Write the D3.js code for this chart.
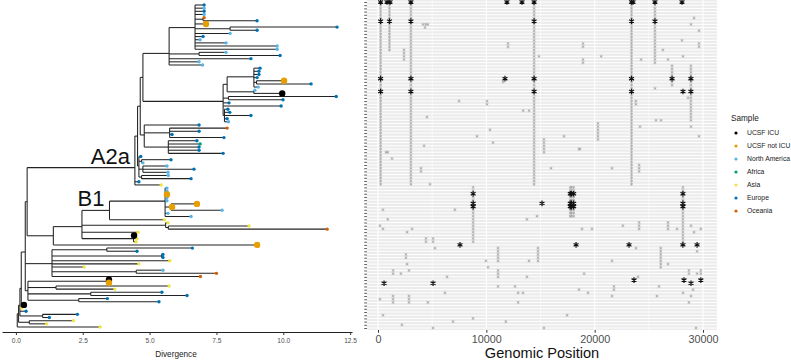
<!DOCTYPE html>
<html>
<head>
<meta charset="utf-8">
<script src="https://cdn.jsdelivr.net/npm/d3@7"></script>
<style>
  body { margin: 0; background: #fff; }
  svg { display: block; font-family: "Liberation Sans", Arial, sans-serif; }
</style>
</head>
<body>
<div id="chart"></div>
<script>
// legend groups
const sampleGroups = ["UCSF ICU", "UCSF not ICU", "North America", "Africa", "Asia", "Europe", "Oceania"];
const groupCodes = ["K", "U", "N", "F", "A", "E", "O"];
const groupColors = ["#000000", "#E69F00", "#56B4E9", "#009E73", "#F0E442", "#0072B2", "#D55E00"];

// tree clades: tip = group code : divergence, node = (...) : divergence
const cladeT1 = "((E:7.04,N:7.04,E:7.04,N:7.04,(O:7.04,E:9.02):7.0,U:7.11,(E:12.01,E:9.02):8.01,N:8.01,E:7.0,N:6.89,N:7.86,N:9.77,N:9.77):6.7,(N:7.86,E:9.88):6.85,E:8.79,N:6.85,N:6.98):5.73";
const cladeT2 = "(((E:9.13,E:9.09,E:9.09,E:9.02,(U:10.03,E:11.04):9.0,N:9.06):8.9,(N:8.94,K:9.96):8.9):7.9,(E:11.98,E:9.99):7.95,E:7.97,E:9.92,(E:7.93,E:8.0,E:8.79,E:7.9,N:7.95):7.8):7.75";
const cladeT3 = "(E:6.85,(O:7.9,E:6.85,E:5.84,E:7.78):5.75,(E:6.77,F:6.89,E:6.85,E:6.85,E:7.75):5.7):4.8";
const cladeT4 = "(E:4.67,(E:5.8,N:4.75):4.7,(N:5.65,E:6.66,N:5.69):4.75,(N:5.7,E:6.55):4.7):4.6";
const cladeB1 = "(((N:5.65,N:5.65,U:5.65,N:5.65,N:5.65,(U:6.77,U:5.84,N:7.71):5.8,N:5.69,N:6.55):5.58,A:5.55):3.5#B1,(A:5.69,(A:8.72,O:11.64):5.7):5.6,A:4.57,(K:4.42,A:4.53,A:4.5):4.4):2.47";
const cladeM1 = "((E:6.6,E:4.53):3.4,(E:5.5,E:5.5):5.45,A:5.76,A:4.6,A:2.55,(N:5.5,O:7.5):4.5,O:6.9):1.35";
const cladeM2 = "((K:3.48,U:3.48):3.45,(A:5.73,A:3.7):1.5,(E:5.46,E:6.4):2.8,(E:3.42,E:5.35):2.35):0.45";

const cladeA2a = `((((${cladeT1},${cladeT2}):4.75,${cladeT3}):4.65,${cladeT4}):4.55,E:4.6,A:5.43):4.45#A2a`;
const treeText = `((((((${cladeA2a},(${cladeB1},U:9.02):1.4):0.42,${cladeM1},${cladeM2}):0.35,K:0.3,A:0.22):0.2,E:0.38,(E:2.3,E:1.25):1.0):0.15,(A:2.15,A:1.15):0.5):0.1,A:3.15):0.05,A:0,A:0,A:0,A:0):0`;

const divTicks = [0, 2.5, 5, 7.5, 10, 12.5];
const posTicks = [0, 10000, 20000, 30000];
const posMinor = [5000, 15000, 25000];

// mutations shared by a run of rows: [position, first row, last row]
const cladeColumns = [
  [241, 0, 57], [1059, 0, 15], [3037, 0, 57], [14408, 0, 57], [23403, 0, 57], [25563, 0, 19],
  [27140, 20, 26], [28881, 20, 37], [2400, 15, 18], [12000, 13, 14], [20300, 38, 43], [15320, 43, 47],
  [8782, 58, 75], [17747, 58, 67], [17858, 58, 67], [18060, 58, 67], [28144, 58, 76], [26100, 77, 83],
  [11080, 77, 81], [14770, 77, 81], [11080, 84, 86], [24100, 69, 71], [26770, 69, 71], [21780, 89, 90],
  [18920, 13, 14], [18920, 18, 19], [29630, 13, 14], [23800, 31, 32], [24100, 51, 53], [3970, 52, 53],
  [10060, 31, 32], [4430, 74, 75], [5080, 74, 75], [2580, 79, 80], [1390, 84, 85], [1390, 92, 94],
  [2860, 92, 94], [28700, 84, 85], [29800, 84, 85]
];

// single-row mutations: [position, row]
const privateMutations = [
  [4150, 7], [4400, 7], [4600, 7], [4340, 8], [14860, 17], [11540, 25], [7480, 31], [13400, 34], [13940, 34],
  [4520, 36], [10340, 40], [9140, 42], [17170, 42], [10620, 44], [4250, 45], [18550, 46], [740, 47], [900, 47],
  [1290, 49], [15970, 52], [4800, 57],
  [29170, 5], [28890, 7], [29630, 9], [28060, 12], [26300, 15], [20600, 17], [24280, 18], [26770, 18], [28150, 17],
  [25570, 27], [28620, 30], [25660, 37], [26120, 37], [24180, 39], [28890, 39], [29630, 42], [18640, 46], [21600, 52],
  [460, 65], [7100, 65], [900, 68], [13750, 68], [14680, 67], [180, 70], [460, 71], [3140, 71], [2680, 72],
  [5260, 77], [9970, 81], [13940, 81], [2680, 82], [10150, 83], [2860, 84], [2120, 85], [6370, 86], [13750, 86],
  [11080, 89], [12650, 89], [6180, 91], [12930, 91], [13380, 91], [180, 93], [4600, 94], [12930, 94],
  [460, 98], [8770, 99], [17450, 98], [6920, 100], [11800, 100], [2210, 101], [5080, 102], [15320, 102], [29350, 102],
  [18830, 71], [19750, 71], [22600, 70], [27600, 71], [28890, 70], [29170, 72], [29800, 71], [23820, 77], [29450, 78],
  [21600, 81], [26770, 82], [19020, 85], [29450, 85], [24000, 86], [25940, 89], [29080, 90], [18550, 90], [19380, 91],
  [21600, 92], [25750, 92], [28150, 91], [28890, 92], [28700, 94]
];

// UCSF sample mutations, drawn black: [position, row]
const ucsfMutations = [
  [241, 0], [830, 0], [1110, 0], [3037, 0], [11900, 0], [13290, 0], [14408, 0], [23403, 0], [23540, 0], [25563, 0], [28060, 0],
  [241, 6], [1059, 6], [3037, 6], [14408, 6], [23403, 6], [25563, 6],
  [241, 24], [3037, 24], [11720, 24], [14408, 24], [23403, 24], [27140, 24], [28881, 24],
  [241, 28], [3037, 28], [14408, 28], [23403, 28], [28150, 28], [28881, 28],
  [8782, 60], [17747, 60], [17858, 60], [18060, 60], [28144, 60],
  [8782, 63], [15140, 63], [17747, 63], [17858, 63], [18060, 63], [28144, 63],
  [8782, 64], [17747, 64], [17858, 64], [18060, 64], [28144, 64],
  [7570, 76], [18280, 76], [23170, 76], [28144, 76], [29450, 76],
  [23630, 87], [28240, 87], [29800, 87],
  [560, 88], [5080, 88], [28890, 88]
];

function parseTree(s) {
  s = s.replace(/\s+/g, "");
  let i = 0;
  function num() {
    i++; // skip ':'
    const j = i;
    while (i < s.length && /[0-9.]/.test(s[i])) i++;
    return +s.slice(j, i);
  }
  function label() {
    if (s[i] !== "#") return null;
    i++;
    const j = i;
    while (i < s.length && !",)".includes(s[i])) i++;
    return s.slice(j, i);
  }
  function node() {
    if (s[i] === "(") {
      i++;
      const children = [node()];
      while (s[i] === ",") { i++; children.push(node()); }
      i++; // ')'
      const div = num();
      return { children, div, label: label() };
    }
    const code = s[i++];
    return { code, div: num() };
  }
  return node();
}

const width = 791, height = 360;
const svg = d3.select("#chart").append("svg")
  .attr("width", width)
  .attr("height", height);

const color = d3.scaleOrdinal().domain(groupCodes).range(groupColors);

// ---- tree ----
const root = d3.hierarchy(parseTree(treeText), d => d.children);
const leaves = root.leaves();
const nRows = leaves.length;

const xTree = d3.scaleLinear().domain([-0.52, 12.57]).range([2, 352]);
const yTree = d3.scaleLinear().domain([0, nRows - 1]).range([5, 327]);

leaves.forEach((d, i) => { d.py = yTree(i); });
root.eachAfter(d => {
  if (d.children) d.py = d3.mean(d.children, c => c.py);
  d.px = xTree(d.data.div);
});

const gTree = svg.append("g")
  .attr("fill", "none")
  .attr("stroke", "#222")
  .attr("stroke-width", 1.05);

gTree.selectAll("path.h")
  .data(root.descendants().filter(d => d.parent))
  .join("path")
  .attr("d", d => `M${d.parent.px},${d.py}H${d.px}`);

gTree.selectAll("path.v")
  .data(root.descendants().filter(d => d.children))
  .join("path")
  .attr("d", d => `M${d.px},${d.children[0].py}V${d.children[d.children.length - 1].py}`);

const isUcsf = d => d.data.code === "K" || d.data.code === "U";
const tipOrder = leaves.filter(d => !isUcsf(d)).concat(leaves.filter(isUcsf));

svg.append("g").selectAll("circle")
  .data(tipOrder)
  .join("circle")
  .attr("cx", d => d.px)
  .attr("cy", d => d.py)
  .attr("r", d => isUcsf(d) ? 3.2 : 1.7)
  .attr("fill", d => color(d.data.code));

// clade labels
svg.append("g").selectAll("text")
  .data(root.descendants().filter(d => d.data.label))
  .join("text")
  .attr("x", d => d.px - 5)
  .attr("y", d => d.py - 4)
  .attr("text-anchor", "end")
  .attr("font-size", 22)
  .attr("fill", "#111")
  .text(d => d.data.label);

// tree axis
const treeAxis = svg.append("g")
  .attr("transform", "translate(0,332)")
  .call(d3.axisBottom(xTree).tickValues(divTicks).tickFormat(d3.format(".1f")).tickSize(3).tickSizeOuter(0));
treeAxis.select(".domain").attr("stroke", "#222");
treeAxis.selectAll(".tick line").attr("stroke", "#333");
treeAxis.selectAll("text").attr("font-size", 6.6).attr("fill", "#4d4d4d").attr("font-family", null);

svg.append("text")
  .attr("x", 176)
  .attr("y", 357)
  .attr("text-anchor", "middle")
  .attr("font-size", 8.2)
  .attr("fill", "#222")
  .text("Divergence");

// ---- mutation panel ----
const panel = { left: 367, right: 717, top: 0, bottom: 330 };
const xPos = d3.scaleLinear().domain([-1015, 31290]).range([panel.left, panel.right]);
const yRow = d3.scaleLinear().domain([0, nRows - 1]).range([2, 328]);
const rows = d3.range(nRows);

svg.append("rect")
  .attr("x", panel.left)
  .attr("y", panel.top)
  .attr("width", panel.right - panel.left)
  .attr("height", panel.bottom - panel.top)
  .attr("fill", "#ebebeb");

const grid = svg.append("g").attr("stroke", "#fff");
grid.selectAll("line.minor")
  .data(posMinor)
  .join("line")
  .attr("x1", d => xPos(d)).attr("x2", d => xPos(d))
  .attr("y1", panel.top).attr("y2", panel.bottom)
  .attr("stroke-width", 0.55);
grid.selectAll("line.major")
  .data(posTicks)
  .join("line")
  .attr("x1", d => xPos(d)).attr("x2", d => xPos(d))
  .attr("y1", panel.top).attr("y2", panel.bottom)
  .attr("stroke-width", 1.1);
grid.selectAll("line.row")
  .data(rows)
  .join("line")
  .attr("x1", panel.left).attr("x2", panel.right)
  .attr("y1", d => yRow(d)).attr("y2", d => yRow(d))
  .attr("stroke-width", 1);

const starType = d3.symbolAsterisk || d3.symbolCross;
const greySym = d3.symbol().type(starType).size(7);
const blackSym = d3.symbol().type(starType).size(22);

const greyMarks = [];
cladeColumns.forEach(([pos, r0, r1]) => {
  for (let r = r0; r <= r1; r++) greyMarks.push([pos, r]);
});
privateMutations.forEach(m => greyMarks.push(m));

svg.append("g").selectAll("path")
  .data(greyMarks)
  .join("path")
  .attr("transform", d => `translate(${xPos(d[0])},${yRow(d[1])})`)
  .attr("d", greySym)
  .attr("fill", "none")
  .attr("stroke", "#a8a8a8")
  .attr("stroke-width", 0.7);

svg.append("g").selectAll("path")
  .data(ucsfMutations)
  .join("path")
  .attr("transform", d => `translate(${xPos(d[0])},${yRow(d[1])})`)
  .attr("d", blackSym)
  .attr("fill", "none")
  .attr("stroke", "#111")
  .attr("stroke-width", 1.2);

// row ticks on the left
const rowAxis = svg.append("g")
  .attr("transform", `translate(${panel.left},0)`)
  .call(d3.axisLeft(yRow).tickValues(rows).tickFormat("").tickSize(2.75));
rowAxis.select(".domain").remove();
rowAxis.selectAll(".tick line").attr("stroke", "#333").attr("stroke-width", 0.8);

const posAxis = svg.append("g")
  .attr("transform", `translate(0,${panel.bottom})`)
  .call(d3.axisBottom(xPos).tickValues(posTicks).tickFormat(d3.format("d")).tickSize(2.75));
posAxis.select(".domain").remove();
posAxis.selectAll(".tick line").attr("stroke", "#333");
posAxis.selectAll("text").attr("font-size", 10.8).attr("fill", "#4d4d4d").attr("font-family", null);

svg.append("text")
  .attr("x", (panel.left + panel.right) / 2)
  .attr("y", 358)
  .attr("text-anchor", "middle")
  .attr("font-size", 14.6)
  .attr("fill", "#111")
  .text("Genomic Position");

// ---- legend ----
const legend = svg.append("g").attr("transform", "translate(731,0)");
legend.append("text")
  .attr("x", 0)
  .attr("y", 121)
  .attr("font-size", 8.2)
  .attr("fill", "#222")
  .text("Sample");

const item = legend.selectAll("g.item")
  .data(sampleGroups)
  .join("g")
  .attr("transform", (d, i) => `translate(0,${133 + i * 13})`);
item.append("circle")
  .attr("cx", 5)
  .attr("cy", 0)
  .attr("r", 1.6)
  .attr("fill", (d, i) => groupColors[i]);
item.append("text")
  .attr("x", 16)
  .attr("y", 2.4)
  .attr("font-size", 6.8)
  .attr("fill", "#222")
  .text(d => d);
</script>
</body>
</html>
